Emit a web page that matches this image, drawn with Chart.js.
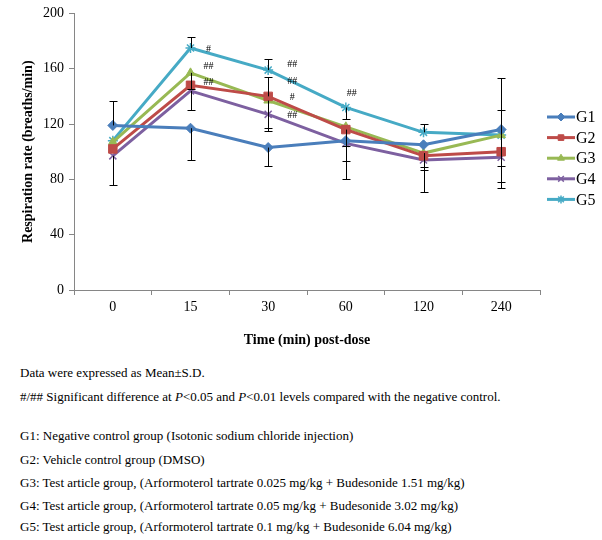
<!DOCTYPE html>
<html>
<head>
<meta charset="utf-8">
<script src="https://cdn.jsdelivr.net/npm/chart.js@4.4.0/dist/chart.umd.min.js"></script>
<style>
  body { margin: 0; background: #fff; }
  #wrap { position: relative; width: 602px; height: 540px; }
  #myChart { position: absolute; left: 0; top: 0; }
  .note { position: absolute; left: 20px; font-family: "Liberation Serif", "Times New Roman", serif;
          font-size: 13px; line-height: 14px; color: #000; white-space: nowrap; }
</style>
</head>
<body>
<div id="wrap">
  <canvas id="myChart" width="602" height="360"></canvas>
  <div class="note" style="top:366px">Data were expressed as Mean±S.D.</div>
  <div class="note" style="top:390px">#/## Significant difference at <i>P</i>&lt;0.05 and <i>P</i>&lt;0.01 levels compared with the negative control.</div>
  <div class="note" style="top:429px">G1: Negative control group (Isotonic sodium chloride injection)</div>
  <div class="note" style="top:453px">G2: Vehicle control group (DMSO)</div>
  <div class="note" style="top:476px">G3: Test article group, (Arformoterol tartrate 0.025 mg/kg + Budesonide 1.51 mg/kg)</div>
  <div class="note" style="top:499px">G4: Test article group, (Arformoterol tartrate 0.05 mg/kg + Budesonide 3.02 mg/kg)</div>
  <div class="note" style="top:520px">G5: Test article group, (Arformoterol tartrate 0.1 mg/kg + Budesonide 6.04 mg/kg)</div>
</div>
<script>
let times = ['0', '15', '30', '60', '120', '240'];
let groups = ['G1', 'G2', 'G3', 'G4', 'G5'];

// mean respiration rate (breaths/min)
let g1 = [119, 117, 103, 108, 105, 116];
let g2 = [102, 148, 140, 116, 97, 100];
let g3 = [107, 157, 137, 118, 99, 112];
let g4 = [97, 144, 127, 106, 94, 96];
let g5 = [108, 175, 159, 132, 114, 112];

// S.D. shown as error bars (upper / lower part, 0 = not shown)
let g1Up = [18, 0, 0, 0, 0, 37];
let g1Down = [0, 23, 13, 28, 0, 0];
let g2Up = [0, 0, 14, 0, 0, 0];
let g2Down = [0, 0, 0, 12, 8, 10];
let g3Up = [0, 0, 0, 0, 0, 0];
let g3Down = [0, 12, 20, 0, 12, 38];
let g4Up = [0, 0, 0, 0, 0, 0];
let g4Down = [21, 14, 12, 13, 23, 18];
let g5Up = [0, 8, 8, 0, 6, 18];
let g5Down = [0, 0, 0, 8, 0, 0];

// significance marks
let sigText = ['#', '##', '##', '##', '##', '#', '##', '##'];
let sigTime = ['15', '15', '15', '30', '30', '30', '30', '60'];
let sigValue = [174, 162, 150, 163, 151, 139, 126, 142];

let colors = ['#4A7EBB', '#BE4B48', '#98B954', '#7D60A0', '#46AAC5'];
let markers = ['rectRot', 'rect', 'triangle', 'crossRot', 'star'];
let markerSize = [5, 6, 5, 5, 5];
let sigShift = [18, 18, 18, 24, 24, 24, 24, 6];

let serif = '"Liberation Serif", "Times New Roman", serif';
let allData = [g1, g2, g3, g4, g5];
let allUp = [g1Up, g2Up, g3Up, g4Up, g5Up];
let allDown = [g1Down, g2Down, g3Down, g4Down, g5Down];

let datasets = groups.map((g, i) => ({
    label: g,
    data: allData[i],
    errUp: allUp[i],
    errDown: allDown[i],
    borderColor: colors[i],
    backgroundColor: colors[i],
    borderWidth: 3,
    tension: 0,
    pointStyle: markers[i],
    pointRadius: markerSize[i],
    pointBorderWidth: (markers[i] == 'crossRot' || markers[i] == 'star') ? 1.5 : 1,
    pointBorderColor: colors[i],
    pointBackgroundColor: colors[i]
}));

// error bars drawn from the dataset values through the y scale
const errorBars = {
    id: 'errorBars',
    afterDatasetsDraw(chart) {
        const ctx = chart.ctx;
        const yScale = chart.scales.y;
        ctx.save();
        ctx.strokeStyle = '#000';
        ctx.lineWidth = 1;
        chart.data.datasets.forEach((ds, i) => {
            chart.getDatasetMeta(i).data.forEach((pt, j) => {
                [[ds.errUp[j], 1], [ds.errDown[j], -1]].forEach(([e, s]) => {
                    if (!e) return;
                    const x = Math.round(pt.x) + 0.5;
                    const yEnd = Math.round(yScale.getPixelForValue(ds.data[j] + s * e)) + 0.5;
                    ctx.beginPath();
                    ctx.moveTo(x, pt.y);
                    ctx.lineTo(x, yEnd);
                    ctx.moveTo(x - 4, yEnd);
                    ctx.lineTo(x + 4, yEnd);
                    ctx.stroke();
                });
            });
        });
        // significance marks
        ctx.fillStyle = '#000';
        ctx.font = '10px ' + serif;
        ctx.textAlign = 'center';
        ctx.textBaseline = 'middle';
        sigText.forEach((t, k) => {
            const x = chart.scales.x.getPixelForValue(times.indexOf(sigTime[k])) + sigShift[k];
            ctx.fillText(t, x, yScale.getPixelForValue(sigValue[k]));
        });
        ctx.restore();
    }
};

// legend at the right: line with marker, then label
const sideLegend = {
    id: 'sideLegend',
    afterDraw(chart) {
        const ctx = chart.ctx;
        ctx.save();
        chart.data.datasets.forEach((ds, i) => {
            const y = 117 + i * 20.6;
            ctx.strokeStyle = ds.borderColor;
            ctx.lineWidth = 3;
            ctx.beginPath();
            ctx.moveTo(547, y);
            ctx.lineTo(575, y);
            ctx.stroke();
            ctx.fillStyle = ds.borderColor;
            ctx.lineWidth = ds.pointBorderWidth;
            Chart.helpers.drawPoint(ctx, {
                pointStyle: ds.pointStyle,
                radius: 4,
                rotation: 0,
                borderWidth: ds.pointBorderWidth
            }, 561, y);
            ctx.fillStyle = '#000';
            ctx.font = '16px ' + serif;
            ctx.textBaseline = 'middle';
            ctx.fillText(ds.label, 576, y + 1);
        });
        ctx.restore();
    }
};

let myChart = document.getElementById('myChart').getContext('2d');
let chart = new Chart(myChart, {
    type: 'line',
    data: {
        labels: times,
        datasets: datasets
    },
    options: {
        responsive: false,
        animation: false,
        layout: { padding: { top: 12, right: 62, left: 0, bottom: 0 } },
        plugins: {
            legend: { display: false },
            tooltip: { enabled: false }
        },
        scales: {
            x: {
                offset: true,
                afterFit(scale) { scale.height = 70; },
                grid: { display: true, offset: true, drawOnChartArea: false, tickLength: 5, color: '#868686' },
                border: { color: '#868686' },
                ticks: { color: '#000', font: { family: serif, size: 14 }, padding: 4 },
                title: {
                    display: true,
                    text: 'Time (min) post-dose',
                    color: '#000',
                    font: { family: serif, size: 14, weight: 'bold' },
                    padding: { top: 0, bottom: 11 }
                }
            },
            y: {
                min: 0,
                max: 200,
                afterFit(scale) { scale.width = 74; },
                grid: { display: true, drawOnChartArea: false, tickLength: 5, color: '#868686' },
                border: { color: '#868686' },
                ticks: { stepSize: 40, color: '#000', font: { family: serif, size: 14 }, padding: 5 },
                title: {
                    display: true,
                    text: 'Respiration rate (breaths/min)',
                    color: '#000',
                    font: { family: serif, size: 14, weight: 'bold' },
                    padding: { top: 20, bottom: 0 }
                }
            }
        }
    },
    plugins: [errorBars, sideLegend]
});
</script>
</body>
</html>
